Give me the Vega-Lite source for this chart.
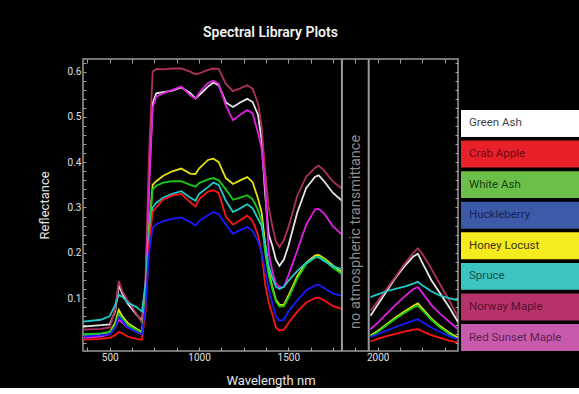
{
"$schema": "https://vega.github.io/schema/vega-lite/v6.json",
"background": "#000000",
"padding": {"left": 37, "top": 24, "right": 0, "bottom": 0},
"config": {
  "font": "Roboto",
  "view": {"stroke": "#9a9a9a", "strokeWidth": 1.5},
  "axis": {"domain": false, "grid": false, "tickColor": "#a0a0a0", "tickWidth": 1, "labelColor": "#e0e0e0", "titleColor": "#e6e6e6", "labelFont": "Roboto", "titleFont": "Roboto", "labelFontSize": 10, "titleFontSize": 13, "titleFontWeight": "normal", "labelOverlap": false}
},
"bounds": "flush",
"spacing": 3,
"resolve": {"scale": {"color": "independent", "fill": "independent", "x": "independent", "y": "independent"}},
"hconcat": [
{
  "width": 375,
  "height": 292,
  "title": {"text": "Spectral Library Plots", "color": "#f2f2f2", "fontSize": 14, "fontWeight": 600, "font": "Roboto", "offset": 18, "anchor": "middle"},
  "resolve": {"axis": {"x": "independent", "y": "independent"}},
  "layer": [
    {
      "data": {"values": [
{"s":"Green Ash","w":350,"r":0.037,"g":1},{"s":"Green Ash","w":450,"r":0.04,"g":1},{"s":"Green Ash","w":500,"r":0.042,"g":1},{"s":"Green Ash","w":530,"r":0.07,"g":1},{"s":"Green Ash","w":550,"r":0.128,"g":1},{"s":"Green Ash","w":570,"r":0.11,"g":1},{"s":"Green Ash","w":600,"r":0.088,"g":1},{"s":"Green Ash","w":650,"r":0.063,"g":1},{"s":"Green Ash","w":680,"r":0.05,"g":1},{"s":"Green Ash","w":700,"r":0.12,"g":1},{"s":"Green Ash","w":720,"r":0.36,"g":1},{"s":"Green Ash","w":740,"r":0.53,"g":1},{"s":"Green Ash","w":760,"r":0.552,"g":1},{"s":"Green Ash","w":800,"r":0.555,"g":1},{"s":"Green Ash","w":850,"r":0.558,"g":1},{"s":"Green Ash","w":900,"r":0.565,"g":1},{"s":"Green Ash","w":950,"r":0.553,"g":1},{"s":"Green Ash","w":980,"r":0.541,"g":1},{"s":"Green Ash","w":1000,"r":0.548,"g":1},{"s":"Green Ash","w":1050,"r":0.567,"g":1},{"s":"Green Ash","w":1080,"r":0.576,"g":1},{"s":"Green Ash","w":1110,"r":0.57,"g":1},{"s":"Green Ash","w":1150,"r":0.532,"g":1},{"s":"Green Ash","w":1190,"r":0.522,"g":1},{"s":"Green Ash","w":1230,"r":0.532,"g":1},{"s":"Green Ash","w":1270,"r":0.54,"g":1},{"s":"Green Ash","w":1300,"r":0.533,"g":1},{"s":"Green Ash","w":1330,"r":0.505,"g":1},{"s":"Green Ash","w":1350,"r":0.45,"g":1},{"s":"Green Ash","w":1370,"r":0.33,"g":1},{"s":"Green Ash","w":1390,"r":0.24,"g":1},{"s":"Green Ash","w":1410,"r":0.216,"g":1},{"s":"Green Ash","w":1430,"r":0.185,"g":1},{"s":"Green Ash","w":1450,"r":0.171,"g":1},{"s":"Green Ash","w":1475,"r":0.185,"g":1},{"s":"Green Ash","w":1500,"r":0.215,"g":1},{"s":"Green Ash","w":1550,"r":0.289,"g":1},{"s":"Green Ash","w":1600,"r":0.343,"g":1},{"s":"Green Ash","w":1650,"r":0.368,"g":1},{"s":"Green Ash","w":1670,"r":0.371,"g":1},{"s":"Green Ash","w":1700,"r":0.358,"g":1},{"s":"Green Ash","w":1750,"r":0.332,"g":1},{"s":"Green Ash","w":1800,"r":0.315,"g":1},
{"s":"Green Ash","w":1960,"r":0.061,"g":2},{"s":"Green Ash","w":2000,"r":0.085,"g":2},{"s":"Green Ash","w":2050,"r":0.115,"g":2},{"s":"Green Ash","w":2100,"r":0.145,"g":2},{"s":"Green Ash","w":2150,"r":0.17,"g":2},{"s":"Green Ash","w":2200,"r":0.192,"g":2},{"s":"Green Ash","w":2225,"r":0.198,"g":2},{"s":"Green Ash","w":2250,"r":0.178,"g":2},{"s":"Green Ash","w":2300,"r":0.14,"g":2},{"s":"Green Ash","w":2350,"r":0.11,"g":2},{"s":"Green Ash","w":2400,"r":0.08,"g":2},{"s":"Green Ash","w":2450,"r":0.047,"g":2},

{"s":"Norway Maple","w":350,"r":0.03,"g":1},{"s":"Norway Maple","w":450,"r":0.032,"g":1},{"s":"Norway Maple","w":500,"r":0.035,"g":1},{"s":"Norway Maple","w":530,"r":0.075,"g":1},{"s":"Norway Maple","w":550,"r":0.138,"g":1},{"s":"Norway Maple","w":570,"r":0.115,"g":1},{"s":"Norway Maple","w":600,"r":0.095,"g":1},{"s":"Norway Maple","w":650,"r":0.065,"g":1},{"s":"Norway Maple","w":680,"r":0.045,"g":1},{"s":"Norway Maple","w":700,"r":0.14,"g":1},{"s":"Norway Maple","w":720,"r":0.42,"g":1},{"s":"Norway Maple","w":740,"r":0.6,"g":1},{"s":"Norway Maple","w":760,"r":0.606,"g":1},{"s":"Norway Maple","w":800,"r":0.605,"g":1},{"s":"Norway Maple","w":850,"r":0.607,"g":1},{"s":"Norway Maple","w":900,"r":0.607,"g":1},{"s":"Norway Maple","w":950,"r":0.6,"g":1},{"s":"Norway Maple","w":980,"r":0.594,"g":1},{"s":"Norway Maple","w":1000,"r":0.596,"g":1},{"s":"Norway Maple","w":1050,"r":0.604,"g":1},{"s":"Norway Maple","w":1080,"r":0.607,"g":1},{"s":"Norway Maple","w":1110,"r":0.606,"g":1},{"s":"Norway Maple","w":1150,"r":0.573,"g":1},{"s":"Norway Maple","w":1190,"r":0.557,"g":1},{"s":"Norway Maple","w":1230,"r":0.563,"g":1},{"s":"Norway Maple","w":1270,"r":0.57,"g":1},{"s":"Norway Maple","w":1300,"r":0.562,"g":1},{"s":"Norway Maple","w":1330,"r":0.53,"g":1},{"s":"Norway Maple","w":1350,"r":0.48,"g":1},{"s":"Norway Maple","w":1370,"r":0.38,"g":1},{"s":"Norway Maple","w":1390,"r":0.3,"g":1},{"s":"Norway Maple","w":1410,"r":0.26,"g":1},{"s":"Norway Maple","w":1430,"r":0.225,"g":1},{"s":"Norway Maple","w":1450,"r":0.212,"g":1},{"s":"Norway Maple","w":1475,"r":0.228,"g":1},{"s":"Norway Maple","w":1500,"r":0.256,"g":1},{"s":"Norway Maple","w":1550,"r":0.326,"g":1},{"s":"Norway Maple","w":1600,"r":0.368,"g":1},{"s":"Norway Maple","w":1650,"r":0.388,"g":1},{"s":"Norway Maple","w":1670,"r":0.392,"g":1},{"s":"Norway Maple","w":1700,"r":0.382,"g":1},{"s":"Norway Maple","w":1750,"r":0.357,"g":1},{"s":"Norway Maple","w":1800,"r":0.342,"g":1},
{"s":"Norway Maple","w":1960,"r":0.072,"g":2},{"s":"Norway Maple","w":2000,"r":0.093,"g":2},{"s":"Norway Maple","w":2050,"r":0.12,"g":2},{"s":"Norway Maple","w":2100,"r":0.147,"g":2},{"s":"Norway Maple","w":2150,"r":0.175,"g":2},{"s":"Norway Maple","w":2200,"r":0.2,"g":2},{"s":"Norway Maple","w":2225,"r":0.21,"g":2},{"s":"Norway Maple","w":2250,"r":0.198,"g":2},{"s":"Norway Maple","w":2300,"r":0.165,"g":2},{"s":"Norway Maple","w":2350,"r":0.13,"g":2},{"s":"Norway Maple","w":2400,"r":0.095,"g":2},{"s":"Norway Maple","w":2450,"r":0.058,"g":2},

{"s":"Red Sunset Maple","w":350,"r":0.012,"g":1},{"s":"Red Sunset Maple","w":450,"r":0.015,"g":1},{"s":"Red Sunset Maple","w":500,"r":0.02,"g":1},{"s":"Red Sunset Maple","w":530,"r":0.035,"g":1},{"s":"Red Sunset Maple","w":550,"r":0.052,"g":1},{"s":"Red Sunset Maple","w":570,"r":0.045,"g":1},{"s":"Red Sunset Maple","w":600,"r":0.035,"g":1},{"s":"Red Sunset Maple","w":650,"r":0.025,"g":1},{"s":"Red Sunset Maple","w":680,"r":0.02,"g":1},{"s":"Red Sunset Maple","w":700,"r":0.1,"g":1},{"s":"Red Sunset Maple","w":720,"r":0.34,"g":1},{"s":"Red Sunset Maple","w":740,"r":0.52,"g":1},{"s":"Red Sunset Maple","w":760,"r":0.545,"g":1},{"s":"Red Sunset Maple","w":800,"r":0.552,"g":1},{"s":"Red Sunset Maple","w":850,"r":0.56,"g":1},{"s":"Red Sunset Maple","w":900,"r":0.567,"g":1},{"s":"Red Sunset Maple","w":950,"r":0.548,"g":1},{"s":"Red Sunset Maple","w":980,"r":0.54,"g":1},{"s":"Red Sunset Maple","w":1000,"r":0.553,"g":1},{"s":"Red Sunset Maple","w":1050,"r":0.575,"g":1},{"s":"Red Sunset Maple","w":1080,"r":0.58,"g":1},{"s":"Red Sunset Maple","w":1110,"r":0.573,"g":1},{"s":"Red Sunset Maple","w":1150,"r":0.525,"g":1},{"s":"Red Sunset Maple","w":1190,"r":0.493,"g":1},{"s":"Red Sunset Maple","w":1230,"r":0.505,"g":1},{"s":"Red Sunset Maple","w":1270,"r":0.515,"g":1},{"s":"Red Sunset Maple","w":1300,"r":0.508,"g":1},{"s":"Red Sunset Maple","w":1330,"r":0.465,"g":1},{"s":"Red Sunset Maple","w":1350,"r":0.43,"g":1},{"s":"Red Sunset Maple","w":1370,"r":0.35,"g":1},{"s":"Red Sunset Maple","w":1390,"r":0.2,"g":1},{"s":"Red Sunset Maple","w":1410,"r":0.16,"g":1},{"s":"Red Sunset Maple","w":1430,"r":0.132,"g":1},{"s":"Red Sunset Maple","w":1450,"r":0.124,"g":1},{"s":"Red Sunset Maple","w":1475,"r":0.124,"g":1},{"s":"Red Sunset Maple","w":1500,"r":0.15,"g":1},{"s":"Red Sunset Maple","w":1550,"r":0.205,"g":1},{"s":"Red Sunset Maple","w":1600,"r":0.262,"g":1},{"s":"Red Sunset Maple","w":1650,"r":0.296,"g":1},{"s":"Red Sunset Maple","w":1670,"r":0.297,"g":1},{"s":"Red Sunset Maple","w":1700,"r":0.287,"g":1},{"s":"Red Sunset Maple","w":1750,"r":0.258,"g":1},{"s":"Red Sunset Maple","w":1800,"r":0.24,"g":1},
{"s":"Red Sunset Maple","w":1960,"r":0.031,"g":2},{"s":"Red Sunset Maple","w":2000,"r":0.045,"g":2},{"s":"Red Sunset Maple","w":2050,"r":0.065,"g":2},{"s":"Red Sunset Maple","w":2100,"r":0.085,"g":2},{"s":"Red Sunset Maple","w":2150,"r":0.103,"g":2},{"s":"Red Sunset Maple","w":2200,"r":0.12,"g":2},{"s":"Red Sunset Maple","w":2225,"r":0.124,"g":2},{"s":"Red Sunset Maple","w":2250,"r":0.112,"g":2},{"s":"Red Sunset Maple","w":2300,"r":0.085,"g":2},{"s":"Red Sunset Maple","w":2350,"r":0.065,"g":2},{"s":"Red Sunset Maple","w":2400,"r":0.048,"g":2},{"s":"Red Sunset Maple","w":2450,"r":0.031,"g":2},

{"s":"Honey Locust","w":350,"r":0.017,"g":1},{"s":"Honey Locust","w":450,"r":0.02,"g":1},{"s":"Honey Locust","w":500,"r":0.025,"g":1},{"s":"Honey Locust","w":530,"r":0.045,"g":1},{"s":"Honey Locust","w":550,"r":0.074,"g":1},{"s":"Honey Locust","w":570,"r":0.06,"g":1},{"s":"Honey Locust","w":600,"r":0.045,"g":1},{"s":"Honey Locust","w":650,"r":0.032,"g":1},{"s":"Honey Locust","w":680,"r":0.025,"g":1},{"s":"Honey Locust","w":700,"r":0.09,"g":1},{"s":"Honey Locust","w":720,"r":0.25,"g":1},{"s":"Honey Locust","w":740,"r":0.35,"g":1},{"s":"Honey Locust","w":760,"r":0.358,"g":1},{"s":"Honey Locust","w":800,"r":0.37,"g":1},{"s":"Honey Locust","w":850,"r":0.38,"g":1},{"s":"Honey Locust","w":900,"r":0.386,"g":1},{"s":"Honey Locust","w":950,"r":0.375,"g":1},{"s":"Honey Locust","w":980,"r":0.374,"g":1},{"s":"Honey Locust","w":1000,"r":0.386,"g":1},{"s":"Honey Locust","w":1050,"r":0.405,"g":1},{"s":"Honey Locust","w":1080,"r":0.408,"g":1},{"s":"Honey Locust","w":1110,"r":0.4,"g":1},{"s":"Honey Locust","w":1150,"r":0.365,"g":1},{"s":"Honey Locust","w":1190,"r":0.352,"g":1},{"s":"Honey Locust","w":1230,"r":0.36,"g":1},{"s":"Honey Locust","w":1270,"r":0.367,"g":1},{"s":"Honey Locust","w":1300,"r":0.356,"g":1},{"s":"Honey Locust","w":1330,"r":0.32,"g":1},{"s":"Honey Locust","w":1350,"r":0.29,"g":1},{"s":"Honey Locust","w":1370,"r":0.22,"g":1},{"s":"Honey Locust","w":1390,"r":0.16,"g":1},{"s":"Honey Locust","w":1410,"r":0.125,"g":1},{"s":"Honey Locust","w":1430,"r":0.097,"g":1},{"s":"Honey Locust","w":1450,"r":0.085,"g":1},{"s":"Honey Locust","w":1475,"r":0.085,"g":1},{"s":"Honey Locust","w":1500,"r":0.105,"g":1},{"s":"Honey Locust","w":1550,"r":0.148,"g":1},{"s":"Honey Locust","w":1600,"r":0.178,"g":1},{"s":"Honey Locust","w":1650,"r":0.194,"g":1},{"s":"Honey Locust","w":1670,"r":0.195,"g":1},{"s":"Honey Locust","w":1700,"r":0.188,"g":1},{"s":"Honey Locust","w":1750,"r":0.172,"g":1},{"s":"Honey Locust","w":1800,"r":0.157,"g":1},
{"s":"Honey Locust","w":1960,"r":0.017,"g":2},{"s":"Honey Locust","w":2000,"r":0.027,"g":2},{"s":"Honey Locust","w":2050,"r":0.042,"g":2},{"s":"Honey Locust","w":2100,"r":0.057,"g":2},{"s":"Honey Locust","w":2150,"r":0.07,"g":2},{"s":"Honey Locust","w":2200,"r":0.083,"g":2},{"s":"Honey Locust","w":2225,"r":0.088,"g":2},{"s":"Honey Locust","w":2250,"r":0.077,"g":2},{"s":"Honey Locust","w":2300,"r":0.055,"g":2},{"s":"Honey Locust","w":2350,"r":0.038,"g":2},{"s":"Honey Locust","w":2400,"r":0.024,"g":2},{"s":"Honey Locust","w":2450,"r":0.012,"g":2},

{"s":"White Ash","w":350,"r":0.02,"g":1},{"s":"White Ash","w":450,"r":0.022,"g":1},{"s":"White Ash","w":500,"r":0.025,"g":1},{"s":"White Ash","w":530,"r":0.04,"g":1},{"s":"White Ash","w":550,"r":0.065,"g":1},{"s":"White Ash","w":570,"r":0.055,"g":1},{"s":"White Ash","w":600,"r":0.04,"g":1},{"s":"White Ash","w":650,"r":0.03,"g":1},{"s":"White Ash","w":680,"r":0.022,"g":1},{"s":"White Ash","w":700,"r":0.09,"g":1},{"s":"White Ash","w":720,"r":0.25,"g":1},{"s":"White Ash","w":740,"r":0.34,"g":1},{"s":"White Ash","w":760,"r":0.348,"g":1},{"s":"White Ash","w":800,"r":0.355,"g":1},{"s":"White Ash","w":850,"r":0.358,"g":1},{"s":"White Ash","w":900,"r":0.358,"g":1},{"s":"White Ash","w":950,"r":0.35,"g":1},{"s":"White Ash","w":980,"r":0.346,"g":1},{"s":"White Ash","w":1000,"r":0.354,"g":1},{"s":"White Ash","w":1050,"r":0.362,"g":1},{"s":"White Ash","w":1080,"r":0.365,"g":1},{"s":"White Ash","w":1110,"r":0.36,"g":1},{"s":"White Ash","w":1150,"r":0.34,"g":1},{"s":"White Ash","w":1190,"r":0.317,"g":1},{"s":"White Ash","w":1230,"r":0.322,"g":1},{"s":"White Ash","w":1270,"r":0.327,"g":1},{"s":"White Ash","w":1300,"r":0.318,"g":1},{"s":"White Ash","w":1330,"r":0.295,"g":1},{"s":"White Ash","w":1350,"r":0.27,"g":1},{"s":"White Ash","w":1370,"r":0.2,"g":1},{"s":"White Ash","w":1390,"r":0.15,"g":1},{"s":"White Ash","w":1410,"r":0.12,"g":1},{"s":"White Ash","w":1430,"r":0.093,"g":1},{"s":"White Ash","w":1450,"r":0.081,"g":1},{"s":"White Ash","w":1475,"r":0.082,"g":1},{"s":"White Ash","w":1500,"r":0.1,"g":1},{"s":"White Ash","w":1550,"r":0.143,"g":1},{"s":"White Ash","w":1600,"r":0.175,"g":1},{"s":"White Ash","w":1650,"r":0.19,"g":1},{"s":"White Ash","w":1670,"r":0.191,"g":1},{"s":"White Ash","w":1700,"r":0.185,"g":1},{"s":"White Ash","w":1750,"r":0.167,"g":1},{"s":"White Ash","w":1800,"r":0.153,"g":1},
{"s":"White Ash","w":1960,"r":0.015,"g":2},{"s":"White Ash","w":2000,"r":0.025,"g":2},{"s":"White Ash","w":2050,"r":0.04,"g":2},{"s":"White Ash","w":2100,"r":0.054,"g":2},{"s":"White Ash","w":2150,"r":0.067,"g":2},{"s":"White Ash","w":2200,"r":0.079,"g":2},{"s":"White Ash","w":2225,"r":0.083,"g":2},{"s":"White Ash","w":2250,"r":0.073,"g":2},{"s":"White Ash","w":2300,"r":0.052,"g":2},{"s":"White Ash","w":2350,"r":0.035,"g":2},{"s":"White Ash","w":2400,"r":0.021,"g":2},{"s":"White Ash","w":2450,"r":0.009,"g":2},

{"s":"Spruce","w":350,"r":0.048,"g":1},{"s":"Spruce","w":450,"r":0.052,"g":1},{"s":"Spruce","w":500,"r":0.06,"g":1},{"s":"Spruce","w":530,"r":0.085,"g":1},{"s":"Spruce","w":550,"r":0.107,"g":1},{"s":"Spruce","w":570,"r":0.103,"g":1},{"s":"Spruce","w":600,"r":0.09,"g":1},{"s":"Spruce","w":650,"r":0.08,"g":1},{"s":"Spruce","w":680,"r":0.07,"g":1},{"s":"Spruce","w":700,"r":0.13,"g":1},{"s":"Spruce","w":720,"r":0.24,"g":1},{"s":"Spruce","w":740,"r":0.3,"g":1},{"s":"Spruce","w":760,"r":0.31,"g":1},{"s":"Spruce","w":800,"r":0.322,"g":1},{"s":"Spruce","w":850,"r":0.33,"g":1},{"s":"Spruce","w":900,"r":0.336,"g":1},{"s":"Spruce","w":950,"r":0.322,"g":1},{"s":"Spruce","w":980,"r":0.315,"g":1},{"s":"Spruce","w":1000,"r":0.33,"g":1},{"s":"Spruce","w":1050,"r":0.345,"g":1},{"s":"Spruce","w":1080,"r":0.355,"g":1},{"s":"Spruce","w":1110,"r":0.35,"g":1},{"s":"Spruce","w":1150,"r":0.315,"g":1},{"s":"Spruce","w":1190,"r":0.29,"g":1},{"s":"Spruce","w":1230,"r":0.298,"g":1},{"s":"Spruce","w":1270,"r":0.307,"g":1},{"s":"Spruce","w":1300,"r":0.298,"g":1},{"s":"Spruce","w":1330,"r":0.275,"g":1},{"s":"Spruce","w":1350,"r":0.26,"g":1},{"s":"Spruce","w":1370,"r":0.22,"g":1},{"s":"Spruce","w":1390,"r":0.17,"g":1},{"s":"Spruce","w":1410,"r":0.145,"g":1},{"s":"Spruce","w":1430,"r":0.125,"g":1},{"s":"Spruce","w":1450,"r":0.12,"g":1},{"s":"Spruce","w":1475,"r":0.125,"g":1},{"s":"Spruce","w":1500,"r":0.138,"g":1},{"s":"Spruce","w":1550,"r":0.16,"g":1},{"s":"Spruce","w":1600,"r":0.178,"g":1},{"s":"Spruce","w":1650,"r":0.19,"g":1},{"s":"Spruce","w":1670,"r":0.19,"g":1},{"s":"Spruce","w":1700,"r":0.182,"g":1},{"s":"Spruce","w":1750,"r":0.17,"g":1},{"s":"Spruce","w":1800,"r":0.164,"g":1},
{"s":"Spruce","w":1960,"r":0.102,"g":2},{"s":"Spruce","w":2000,"r":0.108,"g":2},{"s":"Spruce","w":2050,"r":0.115,"g":2},{"s":"Spruce","w":2100,"r":0.12,"g":2},{"s":"Spruce","w":2150,"r":0.125,"g":2},{"s":"Spruce","w":2200,"r":0.132,"g":2},{"s":"Spruce","w":2225,"r":0.136,"g":2},{"s":"Spruce","w":2250,"r":0.128,"g":2},{"s":"Spruce","w":2300,"r":0.115,"g":2},{"s":"Spruce","w":2350,"r":0.105,"g":2},{"s":"Spruce","w":2400,"r":0.1,"g":2},{"s":"Spruce","w":2450,"r":0.095,"g":2},

{"s":"Crab Apple","w":350,"r":0.008,"g":1},{"s":"Crab Apple","w":450,"r":0.01,"g":1},{"s":"Crab Apple","w":500,"r":0.012,"g":1},{"s":"Crab Apple","w":530,"r":0.018,"g":1},{"s":"Crab Apple","w":550,"r":0.025,"g":1},{"s":"Crab Apple","w":570,"r":0.022,"g":1},{"s":"Crab Apple","w":600,"r":0.015,"g":1},{"s":"Crab Apple","w":650,"r":0.01,"g":1},{"s":"Crab Apple","w":680,"r":0.008,"g":1},{"s":"Crab Apple","w":700,"r":0.07,"g":1},{"s":"Crab Apple","w":720,"r":0.22,"g":1},{"s":"Crab Apple","w":740,"r":0.29,"g":1},{"s":"Crab Apple","w":760,"r":0.3,"g":1},{"s":"Crab Apple","w":800,"r":0.318,"g":1},{"s":"Crab Apple","w":850,"r":0.326,"g":1},{"s":"Crab Apple","w":900,"r":0.33,"g":1},{"s":"Crab Apple","w":950,"r":0.312,"g":1},{"s":"Crab Apple","w":980,"r":0.302,"g":1},{"s":"Crab Apple","w":1000,"r":0.318,"g":1},{"s":"Crab Apple","w":1050,"r":0.335,"g":1},{"s":"Crab Apple","w":1080,"r":0.338,"g":1},{"s":"Crab Apple","w":1110,"r":0.332,"g":1},{"s":"Crab Apple","w":1150,"r":0.28,"g":1},{"s":"Crab Apple","w":1190,"r":0.262,"g":1},{"s":"Crab Apple","w":1230,"r":0.272,"g":1},{"s":"Crab Apple","w":1270,"r":0.282,"g":1},{"s":"Crab Apple","w":1300,"r":0.27,"g":1},{"s":"Crab Apple","w":1330,"r":0.24,"g":1},{"s":"Crab Apple","w":1350,"r":0.2,"g":1},{"s":"Crab Apple","w":1370,"r":0.13,"g":1},{"s":"Crab Apple","w":1390,"r":0.09,"g":1},{"s":"Crab Apple","w":1410,"r":0.065,"g":1},{"s":"Crab Apple","w":1430,"r":0.035,"g":1},{"s":"Crab Apple","w":1450,"r":0.028,"g":1},{"s":"Crab Apple","w":1475,"r":0.03,"g":1},{"s":"Crab Apple","w":1500,"r":0.045,"g":1},{"s":"Crab Apple","w":1550,"r":0.07,"g":1},{"s":"Crab Apple","w":1600,"r":0.09,"g":1},{"s":"Crab Apple","w":1650,"r":0.1,"g":1},{"s":"Crab Apple","w":1670,"r":0.101,"g":1},{"s":"Crab Apple","w":1700,"r":0.095,"g":1},{"s":"Crab Apple","w":1750,"r":0.082,"g":1},{"s":"Crab Apple","w":1800,"r":0.076,"g":1},
{"s":"Crab Apple","w":1960,"r":0.004,"g":2},{"s":"Crab Apple","w":2000,"r":0.01,"g":2},{"s":"Crab Apple","w":2050,"r":0.016,"g":2},{"s":"Crab Apple","w":2100,"r":0.021,"g":2},{"s":"Crab Apple","w":2150,"r":0.026,"g":2},{"s":"Crab Apple","w":2200,"r":0.03,"g":2},{"s":"Crab Apple","w":2225,"r":0.031,"g":2},{"s":"Crab Apple","w":2250,"r":0.027,"g":2},{"s":"Crab Apple","w":2300,"r":0.018,"g":2},{"s":"Crab Apple","w":2350,"r":0.012,"g":2},{"s":"Crab Apple","w":2400,"r":0.006,"g":2},{"s":"Crab Apple","w":2450,"r":0.002,"g":2},

{"s":"Huckleberry","w":350,"r":0.015,"g":1},{"s":"Huckleberry","w":450,"r":0.018,"g":1},{"s":"Huckleberry","w":500,"r":0.02,"g":1},{"s":"Huckleberry","w":530,"r":0.035,"g":1},{"s":"Huckleberry","w":550,"r":0.058,"g":1},{"s":"Huckleberry","w":570,"r":0.05,"g":1},{"s":"Huckleberry","w":600,"r":0.035,"g":1},{"s":"Huckleberry","w":650,"r":0.025,"g":1},{"s":"Huckleberry","w":680,"r":0.02,"g":1},{"s":"Huckleberry","w":700,"r":0.08,"g":1},{"s":"Huckleberry","w":720,"r":0.2,"g":1},{"s":"Huckleberry","w":740,"r":0.255,"g":1},{"s":"Huckleberry","w":760,"r":0.263,"g":1},{"s":"Huckleberry","w":800,"r":0.27,"g":1},{"s":"Huckleberry","w":850,"r":0.275,"g":1},{"s":"Huckleberry","w":900,"r":0.278,"g":1},{"s":"Huckleberry","w":950,"r":0.268,"g":1},{"s":"Huckleberry","w":980,"r":0.26,"g":1},{"s":"Huckleberry","w":1000,"r":0.27,"g":1},{"s":"Huckleberry","w":1050,"r":0.283,"g":1},{"s":"Huckleberry","w":1080,"r":0.29,"g":1},{"s":"Huckleberry","w":1110,"r":0.285,"g":1},{"s":"Huckleberry","w":1150,"r":0.262,"g":1},{"s":"Huckleberry","w":1190,"r":0.242,"g":1},{"s":"Huckleberry","w":1230,"r":0.25,"g":1},{"s":"Huckleberry","w":1270,"r":0.257,"g":1},{"s":"Huckleberry","w":1300,"r":0.248,"g":1},{"s":"Huckleberry","w":1330,"r":0.225,"g":1},{"s":"Huckleberry","w":1350,"r":0.2,"g":1},{"s":"Huckleberry","w":1370,"r":0.16,"g":1},{"s":"Huckleberry","w":1390,"r":0.12,"g":1},{"s":"Huckleberry","w":1410,"r":0.09,"g":1},{"s":"Huckleberry","w":1430,"r":0.06,"g":1},{"s":"Huckleberry","w":1450,"r":0.05,"g":1},{"s":"Huckleberry","w":1475,"r":0.052,"g":1},{"s":"Huckleberry","w":1500,"r":0.07,"g":1},{"s":"Huckleberry","w":1550,"r":0.095,"g":1},{"s":"Huckleberry","w":1600,"r":0.117,"g":1},{"s":"Huckleberry","w":1650,"r":0.128,"g":1},{"s":"Huckleberry","w":1670,"r":0.129,"g":1},{"s":"Huckleberry","w":1700,"r":0.122,"g":1},{"s":"Huckleberry","w":1750,"r":0.11,"g":1},{"s":"Huckleberry","w":1800,"r":0.105,"g":1},
{"s":"Huckleberry","w":1960,"r":0.014,"g":2},{"s":"Huckleberry","w":2000,"r":0.02,"g":2},{"s":"Huckleberry","w":2050,"r":0.028,"g":2},{"s":"Huckleberry","w":2100,"r":0.036,"g":2},{"s":"Huckleberry","w":2150,"r":0.043,"g":2},{"s":"Huckleberry","w":2200,"r":0.05,"g":2},{"s":"Huckleberry","w":2225,"r":0.053,"g":2},{"s":"Huckleberry","w":2250,"r":0.047,"g":2},{"s":"Huckleberry","w":2300,"r":0.035,"g":2},{"s":"Huckleberry","w":2350,"r":0.025,"g":2},{"s":"Huckleberry","w":2400,"r":0.016,"g":2},{"s":"Huckleberry","w":2450,"r":0.009,"g":2}
      ]},
      "mark": {"type": "line", "strokeWidth": 1.8, "clip": true},
      "encoding": {
        "x": {"field": "w", "type": "quantitative", "scale": {"domain": [350, 2450], "nice": false, "zero": false},
              "axis": {"orient": "bottom", "title": "Wavelength nm", "format": "d", "values": [375,500,625,750,875,1000,1125,1250,1375,1500,1625,1750,1875,2000,2125,2250,2375],
                       "labelExpr": "datum.value % 500 == 0 ? datum.label : ''", "tickSize": -4, "labelPadding": 5, "titlePadding": 12}},
        "y": {"field": "r", "type": "quantitative", "scale": {"domain": [-0.017, 0.628], "nice": false, "zero": false},
              "axis": {"orient": "left", "title": "Reflectance", "values": [0,0.02,0.04,0.06,0.08,0.1,0.12,0.14,0.16,0.18,0.2,0.22,0.24,0.26,0.28,0.3,0.32,0.34,0.36,0.38,0.4,0.42,0.44,0.46,0.48,0.5,0.52,0.54,0.56,0.58,0.6,0.62],
                       "labelExpr": "(abs(datum.value*10 - round(datum.value*10)) < 0.001 && datum.value > 0.05) ? format(datum.value, '.1f') : ''",
                       "tickSize": -3, "labelPadding": 5, "titlePadding": 16}},
        "color": {"field": "s", "type": "nominal",
                  "scale": {"domain": ["Green Ash","Crab Apple","White Ash","Huckleberry","Honey Locust","Spruce","Norway Maple","Red Sunset Maple"],
                            "range": ["#e6e6e6","#ff1414","#14cc14","#1a1aff","#e6e014","#22c8c8","#b0305a","#e020e0"]},
                  "legend": null},
        "detail": {"field": "g", "type": "nominal"}
      }
    },
    {
      "data": {"values": [{"w": 1800}, {"w": 1950}]},
      "mark": {"type": "rule", "color": "#9a9a9a", "strokeWidth": 2},
      "encoding": {
        "x": {"field": "w", "type": "quantitative", "scale": {"domain": [350, 2450], "nice": false, "zero": false},
              "axis": {"orient": "top", "title": null, "labels": false, "values": [375,500,625,750,875,1000,1125,1250,1375,1500,1625,1750,1875,2000,2125,2250,2375], "tickSize": -4}}
      }
    },
    {
      "data": {"values": [{"w": 1877, "r": 0.246, "t": "no atmospheric transmittance"}]},
      "mark": {"type": "text", "angle": 270, "color": "#8c8c8c", "fontSize": 14.5, "font": "Roboto", "align": "center", "baseline": "middle"},
      "encoding": {
        "x": {"field": "w", "type": "quantitative", "scale": {"domain": [350, 2450], "nice": false, "zero": false}, "axis": null},
        "y": {"field": "r", "type": "quantitative", "scale": {"domain": [-0.017, 0.628], "nice": false, "zero": false},
              "axis": {"orient": "right", "title": null, "labels": false, "values": [0,0.02,0.04,0.06,0.08,0.1,0.12,0.14,0.16,0.18,0.2,0.22,0.24,0.26,0.28,0.3,0.32,0.34,0.36,0.38,0.4,0.42,0.44,0.46,0.48,0.5,0.52,0.54,0.56,0.58,0.6,0.62], "tickSize": -3}},
        "text": {"field": "t"}
      }
    }
  ]
},
{
  "width": 130,
  "height": 292,
  "view": {"stroke": null},
  "data": {"values": [{"s":"Green Ash"},{"s":"Crab Apple"},{"s":"White Ash"},{"s":"Huckleberry"},{"s":"Honey Locust"},{"s":"Spruce"},{"s":"Norway Maple"},{"s":"Red Sunset Maple"}]},
  "layer": [
    {
      "mark": {"type": "rect", "stroke": "#000000", "strokeWidth": 0},
      "encoding": {
        "y": {"field": "s", "type": "nominal", "sort": null,
              "scale": {"domain": ["Green Ash","Crab Apple","White Ash","Huckleberry","Honey Locust","Spruce","Norway Maple","Red Sunset Maple"], "paddingInner": 0.12, "paddingOuter": 0.834, "align": 1},
              "axis": null},
        "fill": {"field": "s", "type": "nominal",
                 "scale": {"domain": ["Green Ash","Crab Apple","White Ash","Huckleberry","Honey Locust","Spruce","Norway Maple","Red Sunset Maple"],
                           "range": ["#ffffff","#e8202a","#6cc04a","#3d5aa8","#f5eb1e","#3cc4c0","#b5336a","#c85aae"]},
                 "legend": null}
      }
    },
    {
      "mark": {"type": "text", "align": "left", "baseline": "middle", "dx": 8, "fontSize": 11.5, "font": "Roboto"},
      "encoding": {
        "y": {"field": "s", "type": "nominal", "sort": null, "axis": null},
        "x": {"datum": 0, "type": "quantitative", "scale": {"domain": [0, 1]}, "axis": null},
        "text": {"field": "s"},
        "color": {"field": "s", "type": "nominal",
                  "scale": {"domain": ["Green Ash","Crab Apple","White Ash","Huckleberry","Honey Locust","Spruce","Norway Maple","Red Sunset Maple"],
                            "range": ["#444444","#6e0a10","#1e3d12","#16245a","#3a3500","#145050","#5a0f30","#5e1f50"]},
                  "legend": null}
      }
    }
  ]
}
]
}
